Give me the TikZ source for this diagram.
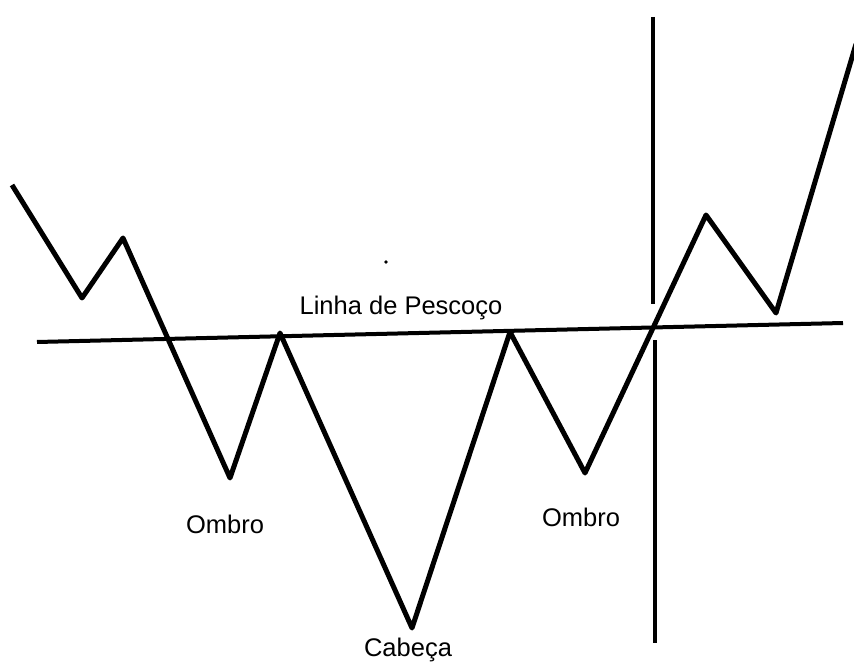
\documentclass[tikz,border=0pt]{standalone}
\usepackage{fontspec}
\setmainfont{Liberation Sans}
\usetikzlibrary{positioning, calc}
\tikzset{
    price/.style={
        draw=black,
        line width=5pt,
        line join=round
    },
    neckline/.style={draw=black, line width=4pt},
    breakline/.style={draw=black, line width=3.3pt},
    lbl/.style={font=\fontsize{25.5}{30}\selectfont, inner sep=0pt, anchor=center}
}

\begin{document}
\begin{tikzpicture}[x=1pt, y=-1pt]

\useasboundingbox (0,0) rectangle (854,668);

% --- Price swings ---
\coordinate (p0) at (12,185);
\coordinate (p1) at (82,298);
\coordinate (p2) at (123,238);
\coordinate (lshoulder) at (230,478);
\coordinate (p4) at (280,333);
\coordinate (head) at (412,628);
\coordinate (p6) at (510,332);
\coordinate (rshoulder) at (585,473);
\coordinate (p8) at (706,215);
\coordinate (p9) at (776,313);
\coordinate (p10) at (856,44);

\draw[price] (p0) -- (p1) -- (p2) -- (lshoulder) -- (p4) -- (head) -- (p6)
    -- (rshoulder) -- (p8) -- (p9) -- (p10);

% --- Neckline ---
\coordinate (n_left) at (37,342);
\coordinate (n_right) at (843,323);
\draw[neckline] (n_left) -- (n_right);

% --- Breakout marker ---
\coordinate (b_top) at (653,17);
\coordinate (b_gap1) at (653,304);
\coordinate (b_gap2) at (655,340);
\coordinate (b_bot) at (655,643);
\draw[breakline] (b_top) -- (b_gap1);
\draw[breakline] (b_gap2) -- (b_bot);

% Labels
\node[lbl] (neck_lbl) at (401,308) {Linha de Pescoço};
\node[lbl] (l_ombro) at (225,524) {Ombro};
\node[lbl] (r_ombro) at (581,517) {Ombro};
\node[lbl] (cabeca) at (408,650) {Cabeça};

% stray dot
\fill (386,262) circle (1.8pt);

\end{tikzpicture}
\end{document}
